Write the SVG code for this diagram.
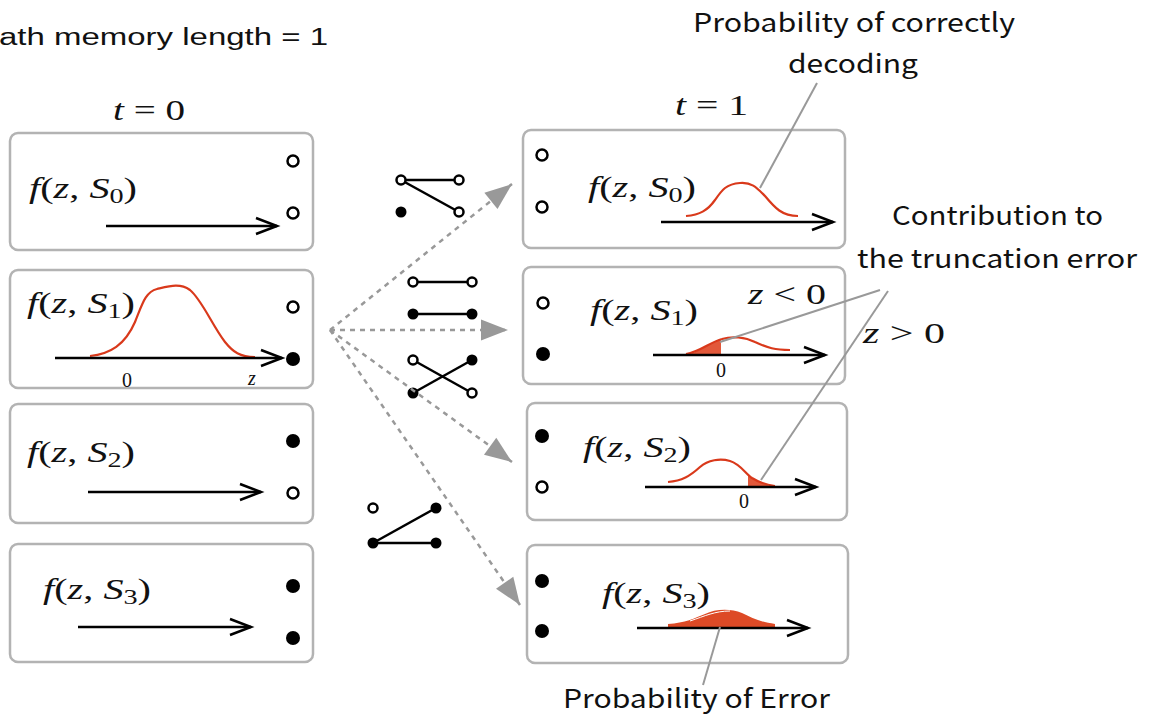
<svg xmlns="http://www.w3.org/2000/svg" width="1151" height="720" viewBox="0 0 1151 720">
<style>
.box{fill:#fff;stroke:#b3b3b3;stroke-width:2.5}
.m{font-family:"Liberation Serif","DejaVu Serif",serif;font-size:30px;fill:#111}
.i{font-style:italic}
.sub{font-size:21px}
.s0{font-family:"Liberation Serif",serif;font-size:20px;fill:#111}
.lbl{font-family:"Noto Sans CJK JP","Noto Sans",sans-serif;font-size:26px;fill:#111}
.ttl{font-family:"Liberation Sans",Arial,sans-serif;font-size:23px;fill:#111}
.oc{fill:#fff;stroke:#000;stroke-width:2.5}
.fc{fill:#000}
.ax{stroke:#000;stroke-width:2.5;fill:none}
.cv{fill:none;stroke:#d9391b;stroke-width:2.2}
.dash{stroke:#999;stroke-width:2.5;stroke-dasharray:5 5;fill:none}
.lead{stroke:#999;stroke-width:2;fill:none}
.tl{stroke:#000;stroke-width:2.5}
</style>
<defs>
<marker id="chev" markerUnits="userSpaceOnUse" markerWidth="26" markerHeight="22" refX="22" refY="9" orient="auto" overflow="visible">
<path d="M1,1 L22,9 L1,17" fill="none" stroke="#000" stroke-width="2.5"/>
</marker>
<marker id="tri" markerUnits="userSpaceOnUse" markerWidth="27" markerHeight="21" refX="27" refY="10.5" orient="auto" overflow="visible">
<path d="M0,0 L27,10.5 L0,21 Z" fill="#999"/>
</marker>
</defs>

<text class="ttl" x="-1" y="45" textLength="329" lengthAdjust="spacingAndGlyphs">ath memory length = 1</text>
<text class="m" x="113" y="120" textLength="72" lengthAdjust="spacingAndGlyphs"><tspan class="i">t</tspan> = 0</text>
<text class="m" x="675" y="115" textLength="73" lengthAdjust="spacingAndGlyphs"><tspan class="i">t</tspan> = 1</text>

<!-- left boxes -->
<g id="L0">
<rect class="box" x="10" y="133" width="303" height="117" rx="8"/>
<text class="m" x="29" y="198" textLength="108" lengthAdjust="spacingAndGlyphs"><tspan class="i">f</tspan>(<tspan class="i">z</tspan>, <tspan class="i">S</tspan><tspan class="sub" dy="5">0</tspan><tspan dy="-5">)</tspan></text>
<line class="ax" x1="106" y1="226" x2="277" y2="226" marker-end="url(#chev)"/>
<circle class="oc" cx="293" cy="161" r="5.5"/>
<circle class="oc" cx="293" cy="213" r="5.5"/>
</g>
<g id="L1">
<rect class="box" x="10" y="270" width="303" height="118" rx="8"/>
<text class="m" x="27" y="313" textLength="108" lengthAdjust="spacingAndGlyphs"><tspan class="i">f</tspan>(<tspan class="i">z</tspan>, <tspan class="i">S</tspan><tspan class="sub" dy="5">1</tspan><tspan dy="-5">)</tspan></text>
<path class="cv" d="M90,356 C110,354 125,345 135,322 C142,305 145,292 157,289 C170,286 180,283 190,290 C202,300 212,325 225,342 C233,352 240,357 255,357"/>
<line class="ax" x1="55" y1="358" x2="282" y2="358" marker-end="url(#chev)"/>
<text class="s0" x="122" y="387">0</text>
<text class="s0 i" x="248" y="385">z</text>
<circle class="oc" cx="293" cy="307" r="5.5"/>
<circle class="fc" cx="293" cy="359" r="7"/>
</g>
<g id="L2">
<rect class="box" x="10" y="404" width="303" height="119" rx="8"/>
<text class="m" x="27" y="462" textLength="108" lengthAdjust="spacingAndGlyphs"><tspan class="i">f</tspan>(<tspan class="i">z</tspan>, <tspan class="i">S</tspan><tspan class="sub" dy="5">2</tspan><tspan dy="-5">)</tspan></text>
<line class="ax" x1="88" y1="492" x2="261" y2="492" marker-end="url(#chev)"/>
<circle class="fc" cx="293" cy="441" r="7"/>
<circle class="oc" cx="293" cy="493" r="5.5"/>
</g>
<g id="L3">
<rect class="box" x="10" y="544" width="303" height="118" rx="8"/>
<text class="m" x="43" y="599" textLength="108" lengthAdjust="spacingAndGlyphs"><tspan class="i">f</tspan>(<tspan class="i">z</tspan>, <tspan class="i">S</tspan><tspan class="sub" dy="5">3</tspan><tspan dy="-5">)</tspan></text>
<line class="ax" x1="78" y1="627" x2="251" y2="627" marker-end="url(#chev)"/>
<circle class="fc" cx="293" cy="586" r="7"/>
<circle class="fc" cx="293" cy="638" r="7"/>
</g>

<!-- right boxes -->
<g id="R0">
<rect class="box" x="523" y="130" width="322" height="118" rx="8"/>
<text class="m" x="588" y="197" textLength="108" lengthAdjust="spacingAndGlyphs"><tspan class="i">f</tspan>(<tspan class="i">z</tspan>, <tspan class="i">S</tspan><tspan class="sub" dy="5">0</tspan><tspan dy="-5">)</tspan></text>
<path class="cv" d="M686,216 C700,215 708,210 715,200 C722,190 726,184 740,183 C752,182 757,188 765,196 C775,208 782,216 798,216"/>
<line class="ax" x1="661" y1="222" x2="833" y2="222" marker-end="url(#chev)"/>
<circle class="oc" cx="542" cy="155" r="5.5"/>
<circle class="oc" cx="542" cy="207" r="5.5"/>
</g>
<g id="R1">
<rect class="box" x="523" y="267" width="322" height="117" rx="8"/>
<text class="m" x="590" y="320" textLength="108" lengthAdjust="spacingAndGlyphs"><tspan class="i">f</tspan>(<tspan class="i">z</tspan>, <tspan class="i">S</tspan><tspan class="sub" dy="5">1</tspan><tspan dy="-5">)</tspan></text>
<text class="m" x="748" y="304" textLength="78" lengthAdjust="spacingAndGlyphs"><tspan class="i">z</tspan> &lt; 0</text>
<path d="M686,355 C700,352 710,342 721,339 L721,355 Z" fill="#e2583a"/>
<path class="cv" d="M686,354 C700,352 710,342 722,339 C732,336 745,337 755,342 C768,348 775,350 790,350"/>
<line class="ax" x1="653" y1="355" x2="825" y2="355" marker-end="url(#chev)"/>
<text class="s0" x="716" y="377">0</text>
<circle class="oc" cx="543" cy="303" r="5.5"/>
<circle class="fc" cx="543" cy="354" r="7"/>
</g>
<g id="R2">
<rect class="box" x="527" y="403" width="320" height="117" rx="8"/>
<text class="m" x="583" y="457" textLength="108" lengthAdjust="spacingAndGlyphs"><tspan class="i">f</tspan>(<tspan class="i">z</tspan>, <tspan class="i">S</tspan><tspan class="sub" dy="5">2</tspan><tspan dy="-5">)</tspan></text>
<path d="M748,487 L748,474 C754,480 762,484 775,487 Z" fill="#e2583a"/>
<path class="cv" d="M668,482 C682,481 690,476 700,467 C708,460 720,458 730,461 C740,464 745,473 752,478 C760,483 766,485 775,486"/>
<line class="ax" x1="645" y1="487" x2="816" y2="487" marker-end="url(#chev)"/>
<text class="s0" x="739" y="508">0</text>
<circle class="fc" cx="542" cy="436" r="7"/>
<circle class="oc" cx="542" cy="487" r="5.5"/>
</g>
<g id="R3">
<rect class="box" x="527" y="545" width="321" height="118" rx="8"/>
<text class="m" x="602" y="603" textLength="108" lengthAdjust="spacingAndGlyphs"><tspan class="i">f</tspan>(<tspan class="i">z</tspan>, <tspan class="i">S</tspan><tspan class="sub" dy="5">3</tspan><tspan dy="-5">)</tspan></text>
<path d="M668,624 C685,623 695,618 705,614 C715,609 730,608 742,613 C752,618 760,622 775,624 L775,627 L668,627 Z" fill="#dd4a26"/>
<path d="M690,621 C705,616 715,611 730,611" fill="none" stroke="#fff" stroke-width="1"/>
<line class="ax" x1="637" y1="628" x2="808" y2="628" marker-end="url(#chev)"/>
<circle class="fc" cx="542" cy="581" r="7"/>
<circle class="fc" cx="542" cy="631" r="7"/>
</g>

<!-- trellis icons -->
<g id="T0">
<line class="tl" x1="401" y1="180" x2="459" y2="180"/>
<line class="tl" x1="401" y1="180" x2="459" y2="212"/>
<circle class="oc" cx="401" cy="180" r="4.5"/>
<circle class="oc" cx="459" cy="180" r="4.5"/>
<circle class="oc" cx="459" cy="212" r="4.5"/>
<circle class="fc" cx="401" cy="212" r="5.5"/>
</g>
<g id="T1">
<line class="tl" x1="413" y1="282" x2="472" y2="282"/>
<line class="tl" x1="413" y1="314" x2="472" y2="314"/>
<circle class="oc" cx="413" cy="282" r="4.5"/>
<circle class="oc" cx="472" cy="282" r="4.5"/>
<circle class="fc" cx="413" cy="314" r="5.5"/>
<circle class="fc" cx="472" cy="314" r="5.5"/>
</g>
<g id="T2">
<line class="tl" x1="413" y1="360" x2="472" y2="393"/>
<line class="tl" x1="413" y1="393" x2="472" y2="360"/>
<circle class="oc" cx="413" cy="360" r="4.5"/>
<circle class="fc" cx="472" cy="360" r="5.5"/>
<circle class="fc" cx="413" cy="393" r="5.5"/>
<circle class="oc" cx="472" cy="393" r="4.5"/>
</g>
<g id="T3">
<line class="tl" x1="373" y1="543" x2="436" y2="508"/>
<line class="tl" x1="373" y1="543" x2="436" y2="543"/>
<circle class="oc" cx="373" cy="508" r="4.5"/>
<circle class="fc" cx="436" cy="508" r="5.5"/>
<circle class="fc" cx="373" cy="543" r="5.5"/>
<circle class="fc" cx="436" cy="543" r="5.5"/>
</g>

<!-- connectors -->
<g id="connectors">
<line class="dash" x1="330" y1="330" x2="512" y2="184" marker-end="url(#tri)"/>
<line class="dash" x1="330" y1="330" x2="508" y2="330" marker-end="url(#tri)"/>
<line class="dash" x1="330" y1="330" x2="512" y2="462" marker-end="url(#tri)"/>
<line class="dash" x1="330" y1="330" x2="520" y2="605" marker-end="url(#tri)"/>
<line class="lead" x1="817" y1="83" x2="760" y2="188"/>
<line class="lead" x1="880" y1="290" x2="720" y2="342"/>
<line class="lead" x1="888" y1="291" x2="761" y2="480"/>
<line class="lead" x1="720" y1="627" x2="703" y2="685"/>
</g>

<!-- annotations -->
<text class="lbl" x="693" y="32" textLength="322" lengthAdjust="spacingAndGlyphs">Probability of correctly</text>
<text class="lbl" x="788" y="73" textLength="130" lengthAdjust="spacingAndGlyphs">decoding</text>
<text class="lbl" x="892" y="225" textLength="211" lengthAdjust="spacingAndGlyphs">Contribution to</text>
<text class="lbl" x="857" y="268" textLength="280" lengthAdjust="spacingAndGlyphs">the truncation error</text>
<text class="m" x="863" y="343" textLength="82" lengthAdjust="spacingAndGlyphs"><tspan class="i">z</tspan> &gt; 0</text>
<text class="lbl" x="563" y="708" textLength="267" lengthAdjust="spacingAndGlyphs">Probability of Error</text>
</svg>
